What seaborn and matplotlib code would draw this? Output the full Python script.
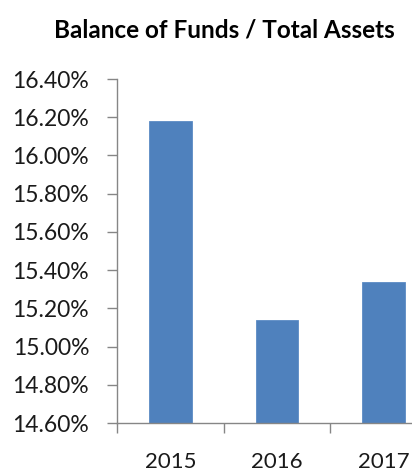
import matplotlib
matplotlib.use("Agg")
import matplotlib.pyplot as plt
from matplotlib.ticker import FuncFormatter, FixedLocator
import seaborn as sns
import pandas as pd

years = ["2015", "2016", "2017"]
ratio_pct = [16.18, 15.14, 15.34]
y_ticks = [14.6, 14.8, 15.0, 15.2, 15.4, 15.6, 15.8, 16.0, 16.2, 16.4]
title = "Balance of Funds / Total Assets"

sns.set_style("white")
plt.rcParams["font.family"] = ["Lato", "DejaVu Sans"]

df = pd.DataFrame({"year": years, "ratio": ratio_pct})

fig = plt.figure(figsize=(4.12, 4.75), dpi=100)
ax = fig.add_axes([117 / 412, 52 / 475, 320 / 412, 344 / 475])

sns.barplot(data=df, x="year", y="ratio", color="#4F81BD", saturation=1,
            width=0.4, ax=ax, edgecolor="#5B8BC4", linewidth=0.6)

ax.set_xlim(-0.5, 2.5)
ax.set_ylim(14.6, 16.4)
ax.yaxis.set_major_locator(FixedLocator(y_ticks))
ax.yaxis.set_major_formatter(FuncFormatter(lambda v, _: f"{v:.2f}%"))
ax.set_xlabel("")
ax.set_ylabel("")

axis_grey = "#868686"
for side in ("top", "right"):
    ax.spines[side].set_visible(False)
for side in ("left", "bottom"):
    ax.spines[side].set_color(axis_grey)
    ax.spines[side].set_linewidth(1.0)

ax.tick_params(axis="y", which="major", direction="out", length=7, width=1,
               color=axis_grey, pad=13, labelsize=16.5, labelcolor="#1a1a1a", left=True)
ax.xaxis.set_minor_locator(FixedLocator([-0.5, 0.5, 1.5, 2.5]))
ax.tick_params(axis="x", which="minor", direction="out", length=7, width=1,
               color=axis_grey, bottom=True)
ax.tick_params(axis="x", which="major", length=0, pad=21, labelsize=16,
               labelcolor="#1a1a1a")

fig.text(224 / 412, 1 - 30 / 475, title, ha="center", va="center",
         fontsize=17.5, fontweight="bold", color="#000000")

fig.savefig("out.png", dpi=100, facecolor="white")
